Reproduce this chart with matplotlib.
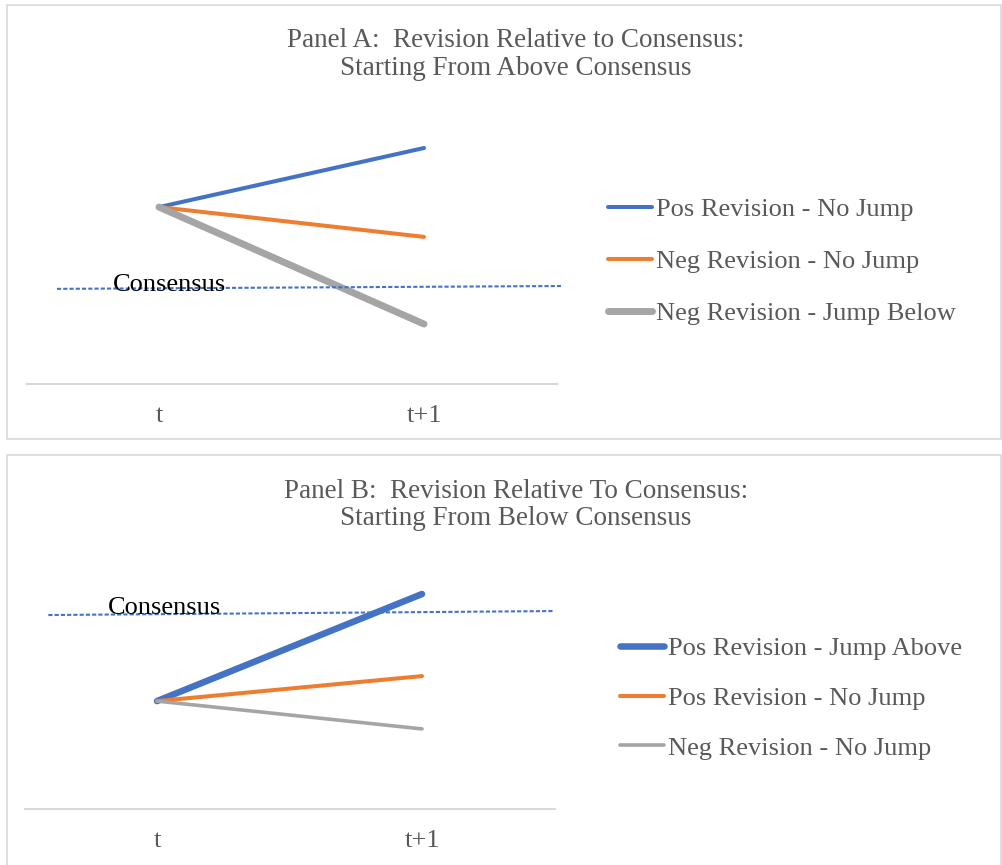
"""Revision relative to consensus -- two panel schematic -> out.png"""
import matplotlib; matplotlib.use('Agg'); import matplotlib.pyplot as plt
from matplotlib.patches import Rectangle

W, H = 1003, 865
plt.rcParams.update({'font.family': ['Liberation Serif', 'DejaVu Serif'], 'font.size': 19})
BLUE = '#4472C4'; ORANGE = '#ED7D31'; GREY = '#A5A5A5'; TXT = '#595959'; FRAME = '#D9D9D9'
FS = 19

# data
periods = ['t', 't+1']
a_labels = ['Pos Revision - No Jump', 'Neg Revision - No Jump', 'Neg Revision - Jump Below']
a_values = [[6.23, 8.31], [6.23, 5.18], [6.23, 2.11]]
a_widths = [2.9, 2.9, 5.0]
a_cons_x = [-0.385, 1.517]
a_cons_y = [3.35, 3.45]
b_labels = ['Pos Revision - Jump Above', 'Pos Revision - No Jump', 'Neg Revision - No Jump']
b_values = [[3.80, 7.57], [3.80, 4.68], [3.80, 2.82]]
b_widths = [4.7, 2.9, 2.6]
b_cons_x = [-0.41, 1.50]
b_cons_y = [6.83, 6.97]
colors = [BLUE, ORANGE, GREY]

fig = plt.figure(figsize=(W / 100, H / 100), dpi=100)

def px(x0, y0, w, h):  # pixel box (top-left origin) -> figure fraction
    return [x0 / W, 1 - (y0 + h) / H, w / W, h / H]

panels = [
    dict(box=(7, 5, 994, 434), ax=px(26.5, 100, 530, 284), title='Panel A:  Revision Relative to Consensus:\nStarting From Above Consensus',
         ty=54.5, labels=a_labels, values=a_values, widths=a_widths, cx=a_cons_x, cy=a_cons_y, tdx=0.211, tdy=-0.08,
         leg=(608, 197.5), ls=1.08),
    dict(box=(7, 455, 994, 420), ax=px(24.5, 525, 530, 284), title='Panel B:  Revision Relative To Consensus:\nStarting From Below Consensus',
         ty=505, labels=b_labels, values=b_values, widths=b_widths, cx=b_cons_x, cy=b_cons_y, tdx=0.225, tdy=0.02,
         leg=(620, 637), ls=0.99),
]

for p in panels:
    bx, by, bw, bh = p['box']
    fig.patches.append(Rectangle((bx / W, 1 - (by + bh) / H), bw / W, bh / H, transform=fig.transFigure,
                                 fill=False, edgecolor=FRAME, lw=1.2))
    ax = fig.add_axes(p['ax'])
    x = range(len(periods))
    for lab, vals, lw, col in zip(p['labels'], p['values'], p['widths'], colors):
        ax.plot(x, vals, color=col, lw=lw, solid_capstyle='round', label=lab)
    ax.plot(p['cx'], p['cy'], color=BLUE, lw=1.5, ls=(0, (2, 1)), clip_on=False)
    ax.text(p['cx'][0] + p['tdx'], p['cy'][0] + p['tdy'], 'Consensus', fontsize=FS, color='black', va='baseline')
    ax.set_xlim(-0.5, 1.5); ax.set_ylim(0, 10)
    ax.set_xticks(list(x)); ax.set_xticklabels(periods, color=TXT, fontsize=FS)
    ax.tick_params(length=0, pad=15); ax.set_yticks([])
    for s in ['top', 'right', 'left']: ax.spines[s].set_visible(False)
    ax.spines['bottom'].set_color(FRAME); ax.spines['bottom'].set_linewidth(1.5)
    ax.patch.set_alpha(0)
    fig.text(516 / W, 1 - p['ty'] / H, p['title'], ha='center', va='center', color=TXT, fontsize=19.5, linespacing=1.15)
    lx, ly = p['leg']
    leg = fig.legend(*ax.get_legend_handles_labels(), loc='upper left', bbox_to_anchor=(lx / W, 1 - ly / H),
                     frameon=False, fontsize=FS, handlelength=1.67, handletextpad=0.15, labelspacing=p['ls'],
                     borderpad=0, borderaxespad=0)
    for t in leg.get_texts(): t.set_color(TXT)

fig.savefig('out.png', dpi=100)
